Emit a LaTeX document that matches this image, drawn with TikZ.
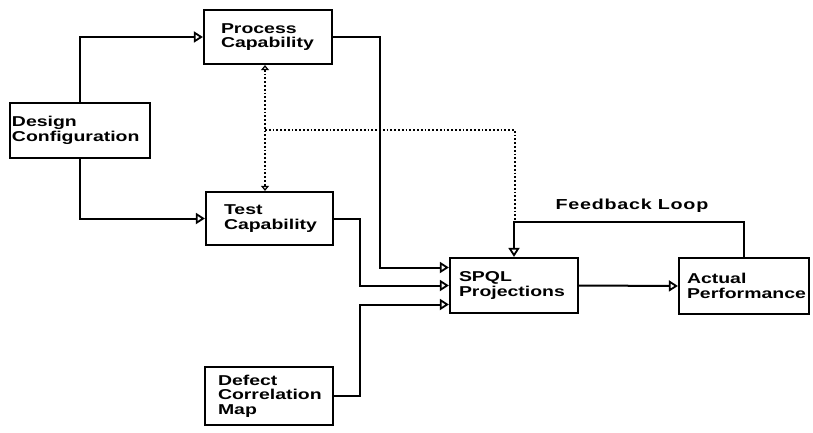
\documentclass[tikz,border=0pt]{standalone}
\usepackage{fontspec}
\setmainfont{Liberation Sans}[FakeStretch=1.36]
\usetikzlibrary{arrows.meta,calc}
\begin{document}
\begin{tikzpicture}[x=1pt,y=-1pt,
  box/.style={draw,line width=2.2pt,align=left,inner ysep=0pt,
    font=\bfseries\fontsize{14.3}{14.5}\selectfont},
  lbl/.style={font=\bfseries\fontsize{14.5}{14.5}\selectfont\addfontfeature{LetterSpace=5}},
  conn/.style={line width=2pt},
  arr/.style={conn,-{Triangle[open,length=9pt,width=11pt,line width=1.8pt]}},
  dots/.style={line width=1.8pt,dotted,{Triangle[open,length=5pt,width=8pt,line width=1.2pt]}-{Triangle[open,length=5pt,width=8pt,line width=1.2pt]}},
  dotline/.style={line width=1.8pt,dotted}]
\useasboundingbox (0,0) rectangle (813,433);
% boxes
\node[box,minimum height=54pt,inner xsep=17pt,text width=94pt] (process) at (268,37) {Process\\Capability};
\node[box,minimum height=55pt,inner xsep=2pt,text width=136pt] (design) at (80,130.5) {Design\\Configuration};
\node[box,minimum height=53pt,inner xsep=18pt,text width=91pt] (test) at (269.5,218.5) {Test\\Capability};
\node[box,minimum height=55pt,inner xsep=9pt,text width=110pt] (spql) at (514,285.5) {SPQL\\Projections};
\node[box,minimum height=56pt,inner xsep=8pt,text width=114pt] (actual) at (744,286) {Actual\\Performance};
\node[box,minimum height=58pt,inner xsep=13pt,text width=102pt] (defect) at (269,396) {Defect\\Correlation\\Map};
% solid connectors
\draw[arr] (design.north) |- (process.west);
\draw[arr] (design.south) |- (test.west);
\draw[arr] (process.east) -- (380,37) |- ($(spql.west)+(0,-18)$);
\draw[arr] (test.east) -- (360,218.5) |- (spql.west);
\draw[arr] (defect.east) -- (360,396) |- ($(spql.west)+(0,19)$);
\draw[arr] (spql.east) -- (actual.west);
\coordinate (fbr) at (744,222);
\draw[arr] (actual.north) -- (fbr) -| (spql.north);
\node[lbl,anchor=base] (fblabel) at (632,209) {Feedback Loop};
% dotted connectors
\draw[dots] ($(process.south)+(-3,0)$) -- ($(test.north)+(-4.5,0)$);
\coordinate (dj) at (265,130);
\coordinate (dk) at (515,222);
\draw[dotline] (dj) -| (dk);
\end{tikzpicture}
\end{document}
